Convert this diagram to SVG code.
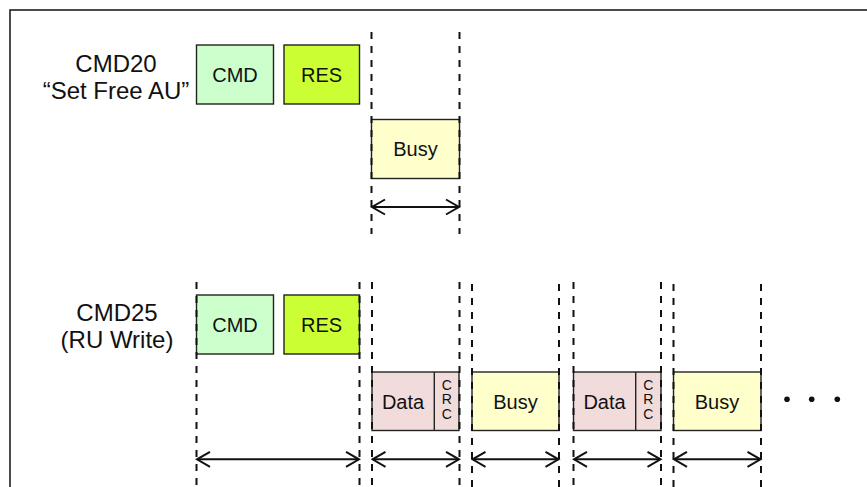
<svg xmlns="http://www.w3.org/2000/svg" width="867" height="487" viewBox="0 0 867 487">
<defs>
<style>
.lbl{font-family:"Liberation Sans",Arial,sans-serif;font-size:24px;fill:#111;text-anchor:middle}
.t{font-family:"Liberation Sans",Arial,sans-serif;font-size:20px;fill:#111;text-anchor:middle}
.crc{font-family:"Liberation Sans",Arial,sans-serif;font-size:14px;fill:#111;text-anchor:middle}
.box{stroke:#222;stroke-width:1.4}
.cmd{fill:#CCFFCC}
.res{fill:#CCFF33}
.busy{fill:#FFFFCC}
.data{fill:#F2DCDB}
.dash{stroke:#111;stroke-width:2;stroke-dasharray:7 7;fill:none}
.arr{stroke:#111;stroke-width:2;fill:none}
</style>
<marker id="ah" markerWidth="16" markerHeight="18" refX="14" refY="9" orient="auto-start-reverse" markerUnits="userSpaceOnUse">
<path d="M1,1.5 L14,9 L1,16.5" fill="none" stroke="#111" stroke-width="2"/>
</marker>
</defs>
<rect x="10" y="10" width="880" height="500" fill="#fff" stroke="#111" stroke-width="1.5"/>

<g id="label-cmd20">
<text class="lbl" x="116" y="72">CMD20</text>
<text class="lbl" x="116" y="98.7">“Set Free AU”</text>
</g>
<g id="label-cmd25">
<text class="lbl" x="117" y="321.3">CMD25</text>
<text class="lbl" x="117" y="348">(RU Write)</text>
</g>

<g id="cmd1"><rect class="box cmd" x="196.5" y="45" width="77" height="59"/><text class="t" x="235" y="82">CMD</text></g>
<g id="res1"><rect class="box res" x="284" y="45" width="75.5" height="59"/><text class="t" x="321.5" y="82">RES</text></g>
<g id="busy1"><rect class="box busy" x="371.5" y="119.5" width="88" height="59"/><text class="t" x="415.5" y="156">Busy</text></g>

<g id="cmd2"><rect class="box cmd" x="196.5" y="295" width="77" height="59"/><text class="t" x="235" y="332">CMD</text></g>
<g id="res2"><rect class="box res" x="284" y="295" width="75.5" height="59"/><text class="t" x="321.5" y="332">RES</text></g>
<g id="data1"><rect class="box data" x="372" y="372" width="87" height="58.5"/><line class="box" x1="434.3" y1="372" x2="434.3" y2="430.5"/><text class="t" x="403" y="408.5">Data</text>
<text class="crc" x="446.7" y="389.5">C</text><text class="crc" x="446.7" y="404">R</text><text class="crc" x="446.7" y="418.5">C</text></g>
<g id="busy2"><rect class="box busy" x="472" y="372" width="87" height="58.5"/><text class="t" x="515.5" y="408.5">Busy</text></g>
<g id="data2"><rect class="box data" x="573.5" y="372" width="87.5" height="58.5"/><line class="box" x1="635.7" y1="372" x2="635.7" y2="430.5"/><text class="t" x="604.5" y="408.5">Data</text>
<text class="crc" x="648.3" y="389.5">C</text><text class="crc" x="648.3" y="404">R</text><text class="crc" x="648.3" y="418.5">C</text></g>
<g id="busy3"><rect class="box busy" x="673.5" y="372" width="87.5" height="58.5"/><text class="t" x="717" y="408.5">Busy</text></g>
<g id="ellipsis" fill="#111"><circle cx="787" cy="399.3" r="2.8"/><circle cx="811.7" cy="399.3" r="2.8"/><circle cx="837.3" cy="399.3" r="2.8"/></g>

<g id="connectors">
<path class="dash" d="M371.5,32 V234 M459.5,32 V234"/>
<path class="dash" d="M196.5,282 V487 M359.5,282 V487 M372,282 V487 M459.5,282 V487 M472,284 V487 M559,284 V487 M573.5,282 V487 M661,282 V487 M673.5,284 V487 M761,284 V487"/>
<line class="arr" x1="372" y1="207" x2="459" y2="207" marker-start="url(#ah)" marker-end="url(#ah)"/>
<line class="arr" x1="197" y1="459.3" x2="359" y2="459.3" marker-start="url(#ah)" marker-end="url(#ah)"/>
<line class="arr" x1="372.5" y1="459.3" x2="459" y2="459.3" marker-start="url(#ah)" marker-end="url(#ah)"/>
<line class="arr" x1="472.5" y1="459.3" x2="558.5" y2="459.3" marker-start="url(#ah)" marker-end="url(#ah)"/>
<line class="arr" x1="574" y1="459.3" x2="660.5" y2="459.3" marker-start="url(#ah)" marker-end="url(#ah)"/>
<line class="arr" x1="674" y1="459.3" x2="760.5" y2="459.3" marker-start="url(#ah)" marker-end="url(#ah)"/>
</g>
</svg>
